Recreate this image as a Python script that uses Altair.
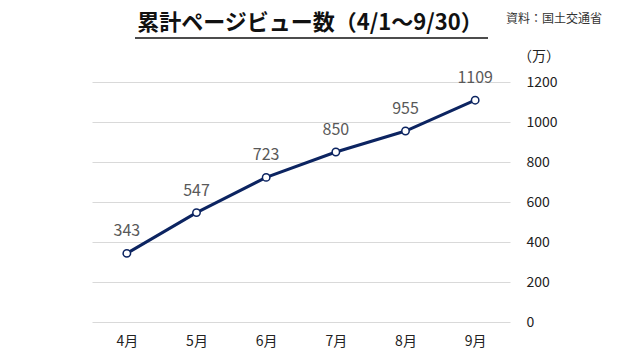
import altair as alt
import pandas as pd

months = ["4月", "5月", "6月", "7月", "8月", "9月"]
views = [343, 547, 723, 850, 955, 1109]
y_ticks = [0, 200, 400, 600, 800, 1000, 1200]

title_text = "累計ページビュー数（4/1～9/30）"
source_text = "資料：国土交通省"
unit_text = "（万）"

df = pd.DataFrame({"month": months, "views": views})

FONT = "Noto Sans CJK JP"
NAVY = "#0c2461"

x = alt.X("month:N", sort=months, title=None,
          scale=alt.Scale(paddingInner=0, paddingOuter=0),
          axis=alt.Axis(labelAngle=0, ticks=False, domain=False, grid=False,
                        labelFontSize=14, labelColor="#222222", labelFont=FONT,
                        labelPadding=12))
y = alt.Y("views:Q", title=None,
          scale=alt.Scale(domain=[0, 1200]),
          axis=alt.Axis(orient="right", values=y_ticks, ticks=False, domain=False,
                        format="d",
                        gridColor="#d9d9d9", gridWidth=1,
                        labelFontSize=14, labelColor="#222222", labelFont=FONT,
                        labelPadding=16, labelAlign="left"))

base = alt.Chart(df)

line = base.mark_line(color=NAVY, strokeWidth=3).encode(x=x, y=y)
pts = base.mark_point(filled=True, fill="white", stroke=NAVY, strokeWidth=1.5,
                      size=55, opacity=1).encode(x=x, y=y)
labels = base.mark_text(dy=-22, fontSize=16, color="#595959", font=FONT).encode(
    x=x, y=y, text=alt.Text("views:Q"))

tdf = pd.DataFrame({"t": [title_text]})
title = alt.Chart(tdf).mark_text(fontSize=22, fontWeight="bold", font=FONT,
                                 color="#111111", align="center", baseline="middle").encode(
    x=alt.value(218), y=alt.value(-59), text="t:N")
underline = alt.Chart(tdf).mark_rule(color="#111111", strokeWidth=1.5).encode(
    x=alt.value(43), x2=alt.value(396), y=alt.value(-44))

sdf = pd.DataFrame({"t": [source_text]})
source = alt.Chart(sdf).mark_text(fontSize=12, font=FONT, color="#333333",
                                  align="left", baseline="middle").encode(
    x=alt.value(414), y=alt.value(-63), text="t:N")

udf = pd.DataFrame({"t": [unit_text]})
unit = alt.Chart(udf).mark_text(fontSize=14, font=FONT, color="#222222",
                                align="left", baseline="middle").encode(
    x=alt.value(426), y=alt.value(-25), text="t:N")

chart = alt.layer(line, pts, labels, title, underline, source, unit).properties(
    width=418, height=240,
    background="white",
    autosize=alt.AutoSizeParams(type="none"),
    padding={"left": 84, "top": 74, "right": 122, "bottom": 32},
).configure_view(stroke=None)

chart.save("out.html", embed_options={"renderer": "svg", "actions": False})
